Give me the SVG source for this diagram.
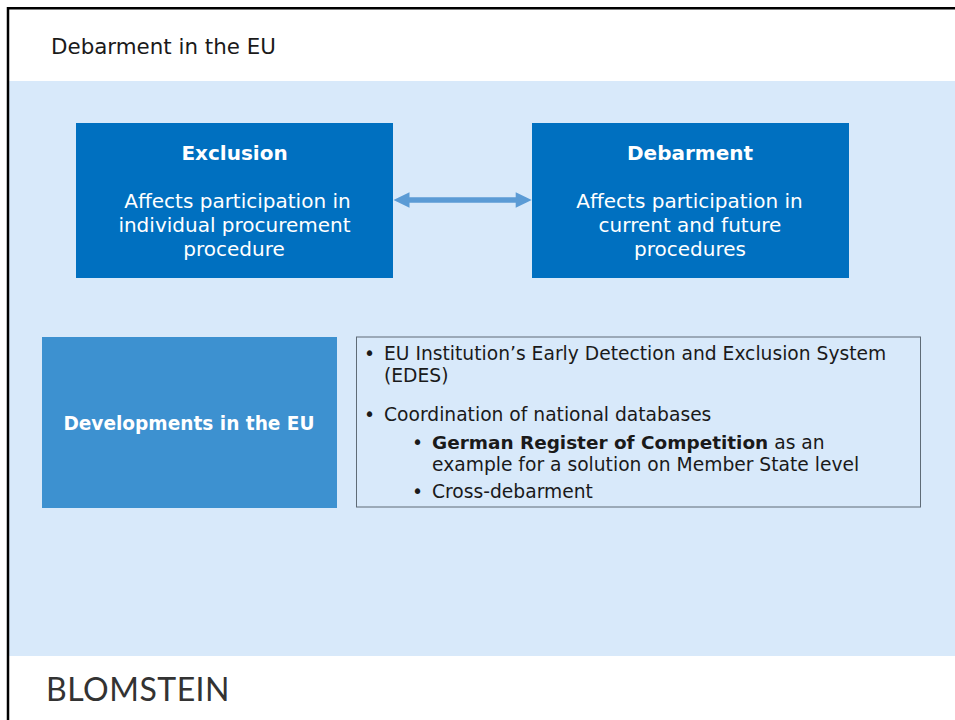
<svg xmlns="http://www.w3.org/2000/svg" width="955" height="720" viewBox="0 0 955 720">
<style>
text{font-family:"DejaVu Sans",Verdana,sans-serif;fill:#1a1a1a;font-size:20px}
.w{fill:#fff;text-anchor:middle}
.b{font-weight:bold}
.box{fill:#0070c0}
.s{font-size:18.7px}
.sb{font-size:18.45px;font-weight:bold}
</style>
<rect width="955" height="720" fill="#fff"/>
<rect x="9" y="81" width="946" height="575" fill="#d8e9fa"/>
<path d="M8 720V8.300H955" fill="none" stroke="#000" stroke-width="2.500"/>
<text id="title" x="51" y="54" style="font-size:21.4px">Debarment in the EU</text>
<g id="exclusion">
<rect class="box" x="76" y="123" width="317" height="155"/>
<text class="w b" x="234.500" y="160">Exclusion</text>
<text class="w" x="237.500" y="208">Affects participation in</text>
<text class="w" x="234.500" y="232">individual procurement</text>
<text class="w" x="234" y="256">procedure</text>
</g>
<g id="debarment">
<rect class="box" x="532" y="123" width="317" height="155"/>
<text class="w b" x="690" y="160">Debarment</text>
<text class="w" x="689.500" y="208">Affects participation in</text>
<text class="w" x="690" y="232">current and future</text>
<text class="w" x="690" y="256">procedures</text>
</g>
<g id="connectors">
<path d="M393.500 200L409.500 192.300V197.300H515.700V192.300L531.700 200L515.700 207.700V202.700H409.500V207.700Z" fill="#5b9bd5"/>
</g>
<g id="developments">
<rect x="42" y="337" width="295" height="171" fill="#3d91d0"/>
<text class="w b" style="font-size:18.55px" x="189" y="430">Developments in the EU</text>
</g>
<g id="details">
<rect x="356.500" y="337" width="564" height="170" fill="none" stroke="#5f6b76" stroke-width="1"/>
<text class="s" x="364" y="360">•</text>
<text class="s" x="384" y="360">EU Institution’s Early Detection and Exclusion System</text>
<text class="s" x="384" y="382">(EDES)</text>
<text class="s" x="364" y="421">•</text>
<text class="s" x="384" y="421">Coordination of national databases</text>
<text class="s" x="412" y="449">•</text>
<text class="s" x="432" y="449"><tspan class="sb">German Register of Competition</tspan> as an</text>
<text class="s" x="432" y="471">example for a solution on Member State level</text>
<text class="s" x="412" y="498">•</text>
<text class="s" x="432" y="498">Cross-debarment</text>
</g>
<text id="logo" x="46" y="701" style="font-family:Lato,sans-serif;font-size:32px;fill:#333;letter-spacing:.5px">BLOMSTEIN</text>
</svg>
